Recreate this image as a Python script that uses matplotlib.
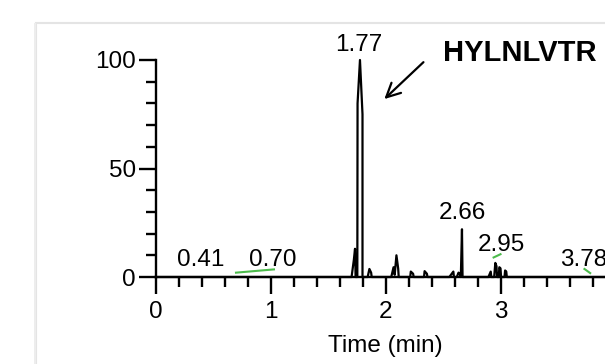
import numpy as np
import matplotlib
matplotlib.use('Agg')
import matplotlib.pyplot as plt
from matplotlib.patches import Rectangle
from matplotlib.ticker import MultipleLocator, FixedFormatter, FixedLocator

plt.rcParams['font.family'] = ['Liberation Sans', 'DejaVu Sans']

# black trace (time in min, relative abundance)
time_k = [0.0, 1.705, 1.725, 1.735, 1.74, 1.755, 1.757, 1.778, 1.80, 1.80,
          1.845, 1.86, 1.875, 1.88, 2.05, 2.07, 2.08, 2.095, 2.11, 2.115,
          2.215, 2.22, 2.24, 2.245, 2.335, 2.34, 2.36, 2.365,
          2.555, 2.59, 2.595, 2.62, 2.635, 2.645, 2.655, 2.665, 2.67,
          2.895, 2.915, 2.92, 2.945, 2.955, 2.965, 2.97, 2.985, 2.99, 3.0, 3.005,
          3.035, 3.04, 3.05, 3.055, 4.0]
inten_k = [0, 0, 8, 13, 0, 0, 80, 100, 75, 0,
           0, 3.7, 2, 0, 0, 4.5, 1, 10, 4, 0,
           0, 2.5, 1.5, 0, 0, 2.7, 1.5, 0,
           0, 2.5, 0, 0, 2, 1.5, 0, 22, 0,
           0, 2.5, 0, 0, 6.5, 5, 0, 0, 4.5, 4, 0,
           0, 3, 2.5, 0, 0]

# green trace, only a few short pieces
time_g = [0.70, 1.03, np.nan, 2.94, 3.00, np.nan, 3.73, 3.78]
inten_g = [2.0, 3.5, np.nan, 9.0, 10.5, np.nan, 3.7, 1.8]

# peak labels (3.78 runs off the right edge, as in the original)
peak_txt = ['0.41', '0.70', '1.77', '2.66', '2.95', '3.78']
peak_x = [0.39, 1.02, 1.77, 2.665, 3.01, 3.72]
peak_y = [8, 8, 107, 29.7, 14.7, 8]

x_ticks = [0, 1, 2, 3]
x_ticklabels = ['0', '1', '2', '3']

fig = plt.figure(figsize=(6.05, 3.64), dpi=100)

# panel frame behind the plot
fig.patches.append(Rectangle((36 / 605, -0.2), 1.2, 1.2 - 23 / 364,
                             transform=fig.transFigure, fill=False,
                             edgecolor='#e4e4e4', lw=1.5, zorder=0))
fig.patches.append(Rectangle((34 / 605, -0.2), 0.004, 1.2 - 23 / 364,
                             transform=fig.transFigure, facecolor='#ededed',
                             edgecolor='none', zorder=0))

ax = fig.add_axes([155.5 / 605, 87 / 364, 460 / 605, 217 / 364])
ax.plot(time_k, inten_k, color='black', lw=1.6, clip_on=False, zorder=3)
ax.plot(time_g, inten_g, color='#4cbb4c', lw=1.5, clip_on=False, zorder=3)

ax.set_xlim(0, 4)
ax.set_ylim(0, 100)
ax.spines['top'].set_visible(False)
ax.spines['right'].set_visible(False)
ax.spines['left'].set_linewidth(1.7)
ax.spines['bottom'].set_linewidth(1.7)

ax.xaxis.set_major_locator(FixedLocator(x_ticks + [4]))
ax.xaxis.set_major_formatter(FixedFormatter(x_ticklabels + ['']))
ax.xaxis.set_minor_locator(MultipleLocator(0.2))
ax.yaxis.set_major_locator(MultipleLocator(50))
ax.yaxis.set_minor_locator(MultipleLocator(10))
ax.tick_params(which='major', direction='out', length=12, width=1.7, labelsize=17.5)
ax.tick_params(which='minor', direction='out', length=7, width=1.7)
ax.tick_params(axis='x', which='major', pad=5)
ax.tick_params(axis='y', which='major', pad=2)
ax.set_xlabel('Time (min)', fontsize=17.5, labelpad=9)

for s, x, y in zip(peak_txt, peak_x, peak_y):
    ax.text(x, y, s, fontsize=17.5, ha='center', va='center', clip_on=False)

ax.text(3.17, 103, 'HYLNLVTR', fontsize=21, fontweight='bold',
        ha='center', va='center', clip_on=False)
ax.annotate('', xy=(1.99, 82), xytext=(2.33, 99),
            arrowprops=dict(arrowstyle='->', color='black', lw=1.6,
                            mutation_scale=25, shrinkA=0, shrinkB=0),
            annotation_clip=False)

fig.savefig('out.png', dpi=100)
